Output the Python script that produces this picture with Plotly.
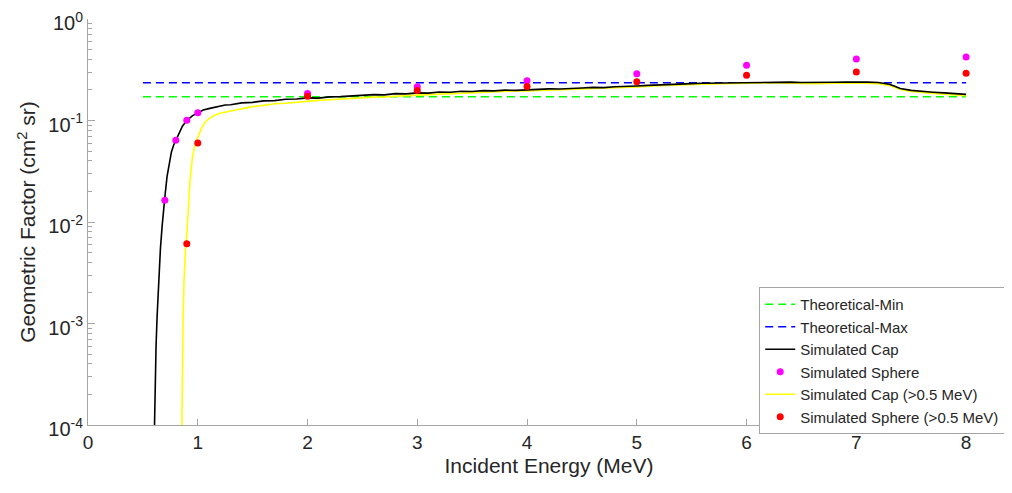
import plotly.graph_objects as go

# ---- data ----
theo_x = [0.5, 8.0]
theo_min = [0.171, 0.171]
theo_max = [0.236, 0.236]

cap_e = [0.606, 0.612, 0.62, 0.63, 0.645, 0.66, 0.675, 0.69, 0.70, 0.72, 0.74, 0.76, 0.78, 0.80,
         0.83, 0.86, 0.90, 0.95, 1.00, 1.05, 1.10, 1.15, 1.20, 1.25, 1.3, 1.4, 1.5, 1.6, 1.7,
         1.8, 1.9, 2.0, 2.1, 2.2, 2.3, 2.4, 2.5, 2.6, 2.7, 2.8, 2.9, 3.0, 3.1, 3.2, 3.3, 3.4,
         3.5, 3.6, 3.7, 3.8, 3.9, 4.0, 4.1, 4.2, 4.3, 4.4, 4.5, 4.6, 4.7, 4.8, 4.9, 5.0, 5.1,
         5.2, 5.3, 5.4, 5.5, 5.6, 5.7, 5.8, 5.9, 6.0, 6.1, 6.2, 6.3, 6.4, 6.5, 6.6, 6.7, 6.8,
         6.9, 7.0, 7.1, 7.2, 7.25, 7.3, 7.35, 7.4, 7.5, 7.6, 7.7, 7.8, 7.9, 8.0]
cap_g = [1.0e-4, 2.5e-4, 6e-4, 1.2e-3, 2.8e-3, 5.5e-3, 9e-3, 0.0145, 0.0175, 0.028, 0.039, 0.049,
         0.057, 0.064, 0.076, 0.088, 0.100, 0.111, 0.119, 0.127, 0.131, 0.135, 0.138, 0.142,
         0.143, 0.149, 0.151, 0.156, 0.157, 0.162, 0.163, 0.167, 0.166, 0.171, 0.172, 0.175,
         0.177, 0.180, 0.179, 0.184, 0.183, 0.187, 0.186, 0.191, 0.190, 0.194, 0.193, 0.197,
         0.196, 0.199, 0.198, 0.201, 0.202, 0.205, 0.204, 0.208, 0.209, 0.212, 0.211, 0.215,
         0.216, 0.219, 0.222, 0.225, 0.228, 0.230, 0.231, 0.233, 0.234, 0.235, 0.236, 0.237,
         0.238, 0.241, 0.240, 0.239, 0.237, 0.236, 0.238, 0.238, 0.239, 0.240, 0.239, 0.237,
         0.234, 0.228, 0.218, 0.207, 0.198, 0.193, 0.190, 0.187, 0.184, 0.181]

cap05_e = [0.855, 0.858, 0.862, 0.867, 0.875, 0.885, 0.89, 0.90, 0.91, 0.92, 0.93, 0.95, 0.97,
           1.00, 1.03, 1.06, 1.10, 1.15, 1.2, 1.3, 1.4, 1.5, 1.6, 1.7, 1.8, 1.9, 2.0, 2.1, 2.2,
           2.3, 2.4, 2.5, 2.6, 2.7, 2.8, 2.9, 3.0, 3.1, 3.2, 3.3, 3.4, 3.5, 3.6, 3.7, 3.8, 3.9,
           4.0, 4.2, 4.4, 4.6, 4.8, 5.0, 5.2, 5.4, 5.6, 5.8, 6.0, 6.2, 6.4, 6.6, 6.8, 7.0, 7.2,
           7.25, 7.3, 7.35, 7.4, 7.5, 7.6, 7.7, 7.8, 7.9, 8.0]
cap05_g = [1.0e-4, 2.5e-4, 6e-4, 1.2e-3, 2.6e-3, 4.8e-3, 6.0e-3, 7.5e-3, 0.012, 0.018, 0.026,
           0.042, 0.055, 0.068, 0.082, 0.094, 0.104, 0.112, 0.118, 0.124, 0.131, 0.137, 0.141,
           0.146, 0.148, 0.152, 0.154, 0.158, 0.160, 0.163, 0.165, 0.168, 0.170, 0.171, 0.174,
           0.175, 0.178, 0.180, 0.182, 0.185, 0.186, 0.189, 0.191, 0.192, 0.194, 0.195, 0.196,
           0.199, 0.203, 0.207, 0.210, 0.214, 0.220, 0.225, 0.228, 0.230, 0.232, 0.235, 0.233,
           0.231, 0.233, 0.234, 0.231, 0.228, 0.222, 0.212, 0.202, 0.193, 0.188, 0.185, 0.182,
           0.179, 0.176]

sphere_e = [0.7, 0.8, 0.9, 1.0, 2.0, 3.0, 4.0, 5.0, 6.0, 7.0, 8.0]
sphere_g = [0.0164, 0.0638, 0.1005, 0.119, 0.185, 0.215, 0.247, 0.288, 0.351, 0.404, 0.422]

sphere05_e = [0.9, 1.0, 2.0, 3.0, 4.0, 5.0, 6.0, 7.0, 8.0]
sphere05_g = [0.0061, 0.060, 0.173, 0.197, 0.216, 0.241, 0.279, 0.301, 0.292]

ytick_vals = [1e-4, 1e-3, 1e-2, 1e-1, 1]
ytick_text = ["10<sup>-4</sup>", "10<sup>-3</sup>", "10<sup>-2</sup>", "10<sup>-1</sup>", "10<sup>0</sup>"]
xtick_vals = [0, 1, 2, 3, 4, 5, 6, 7, 8]

# ---- figure ----
FONT = "Liberation Sans, Arial, Helvetica, sans-serif"
TXT = "#262626"
AX = "#a6a6a6"

fig = go.Figure()
fig.add_trace(go.Scatter(x=theo_x, y=theo_min, mode="lines", name="Theoretical-Min",
                         line=dict(color="#00ff00", width=1.5, dash="8px,5px"), legendrank=1))
fig.add_trace(go.Scatter(x=theo_x, y=theo_max, mode="lines", name="Theoretical-Max",
                         line=dict(color="#0000ff", width=1.5, dash="8px,5px"), legendrank=2))
fig.add_trace(go.Scatter(x=cap05_e, y=cap05_g, mode="lines", name="Simulated Cap (>0.5 MeV)",
                         line=dict(color="#ffff00", width=1.6), legendrank=5))
fig.add_trace(go.Scatter(x=cap_e, y=cap_g, mode="lines", name="Simulated Cap",
                         line=dict(color="#000000", width=1.6), legendrank=3))
fig.add_trace(go.Scatter(x=sphere_e, y=sphere_g, mode="markers", name="Simulated Sphere",
                         marker=dict(color="#ff00ff", size=7), legendrank=4))
fig.add_trace(go.Scatter(x=sphere05_e, y=sphere05_g, mode="markers", name="Simulated Sphere (>0.5 MeV)",
                         marker=dict(color="#ff0000", size=7), legendrank=6))

fig.update_layout(
    width=1004, height=485,
    margin=dict(l=80, r=2, t=11, b=68, autoexpand=False),
    paper_bgcolor="white", plot_bgcolor="white",
    font=dict(family=FONT, color=TXT),
    showlegend=True,
    legend=dict(x=0.728, y=0.34, xanchor="left", yanchor="top",
                bgcolor="white", bordercolor=AX, borderwidth=1,
                font=dict(size=15, color=TXT, family=FONT),
                itemwidth=30, tracegroupgap=0),
    xaxis=dict(range=[0, 8.4], tickvals=xtick_vals, ticks="inside", ticklen=6,
               tickcolor=AX, showline=True, linecolor=AX, linewidth=1, mirror=False,
               showgrid=False, zeroline=False, automargin=False,
               tickfont=dict(size=19, color=TXT),
               title=dict(text="Incident Energy (MeV)", font=dict(size=21, color=TXT), standoff=6)),
    yaxis=dict(type="log", range=[-4, 0], tickvals=ytick_vals, ticktext=ytick_text,
               ticks="inside", ticklen=7, tickcolor=AX, showline=True, linecolor=AX,
               linewidth=1, mirror=False, showgrid=False, zeroline=False, automargin=False,
               ticklabeloverflow="allow", ticklabelshift=4,
               tickfont=dict(size=20, color=TXT),
               minor=dict(tickvals=[m * 10 ** d for d in range(-4, 0) for m in range(2, 10)],
                          ticks="inside", ticklen=4, tickcolor=AX, showgrid=False),
               title=dict(text="Geometric Factor (cm<sup>2</sup> sr)", font=dict(size=21, color=TXT),
                          standoff=6)),
)

fig.write_html("out.html")
